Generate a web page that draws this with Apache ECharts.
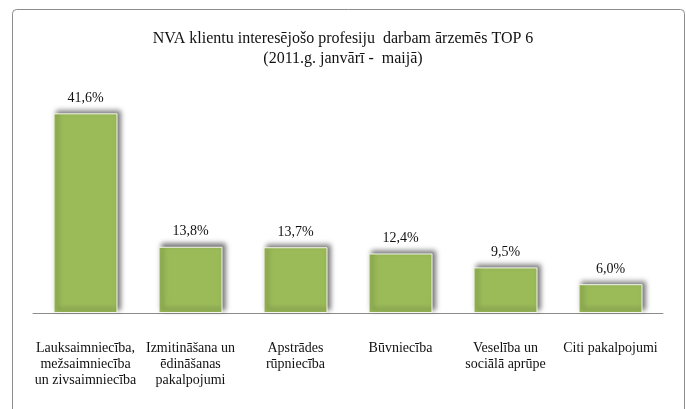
<!DOCTYPE html>
<html><head><meta charset="utf-8">
<script src="https://cdn.jsdelivr.net/npm/echarts@6/dist/echarts.min.js"></script>
<style>html,body{margin:0;padding:0;background:#fff}#c{width:686px;height:409px}</style>
</head><body><div id="c"></div>
<script>
var titleLines = ["NVA klientu interesējošo profesiju  darbam ārzemēs TOP 6", "(2011.g. janvārī -  maijā)"];
var categories = [
  "Lauksaimniecība,\nmežsaimniecība\nun zivsaimniecība",
  "Izmitināšana un\nēdināšanas\npakalpojumi",
  "Apstrādes\nrūpniecība",
  "Būvniecība",
  "Veselība un\nsociālā aprūpe",
  "Citi pakalpojumi"
];
var values = [41.6, 13.8, 13.7, 12.4, 9.5, 6.0];

var chart = echarts.init(document.getElementById('c'));
var serif = '"Liberation Serif", "DejaVu Serif", serif';
chart.setOption({
  animation: false,
  backgroundColor: '#fff',
  graphic: [{
    type: 'rect', left: 10, top: 7,
    shape: {width: 672, height: 420, r: 4},
    style: {fill: 'none', stroke: '#8c8c8c', lineWidth: 1}
  }],
  title: {
    text: titleLines.join('\n'),
    left: 'center', top: 24,
    textStyle: {fontFamily: serif, fontSize: 16, fontWeight: 'normal', color: '#111', lineHeight: 20}
  },
  grid: {left: 33, right: 23, top: 73, bottom: 96},
  xAxis: {
    type: 'category', data: categories,
    axisLine: {lineStyle: {color: '#8c8c8c', width: 1}},
    axisTick: {show: false},
    axisLabel: {interval: 0, fontFamily: serif, fontSize: 14, color: '#111', lineHeight: 16, margin: 27}
  },
  yAxis: {type: 'value', min: 0, max: 50, show: false, splitLine: {show: false}},
  series: [{
    type: 'bar', data: values, barWidth: 64,
    itemStyle: {
      color: '#9BBB59', borderColor: '#f4f7ee', borderWidth: 1,
      shadowColor: 'rgba(0,0,0,0.55)', shadowBlur: 5, shadowOffsetX: 3, shadowOffsetY: -3
    },
    label: {
      show: true, position: 'top', distance: 8,
      fontFamily: serif, fontSize: 14, color: '#111',
      formatter: function (p) { return p.value.toFixed(1).replace('.', ',') + '%'; }
    }
  }]
});
</script></body></html>
